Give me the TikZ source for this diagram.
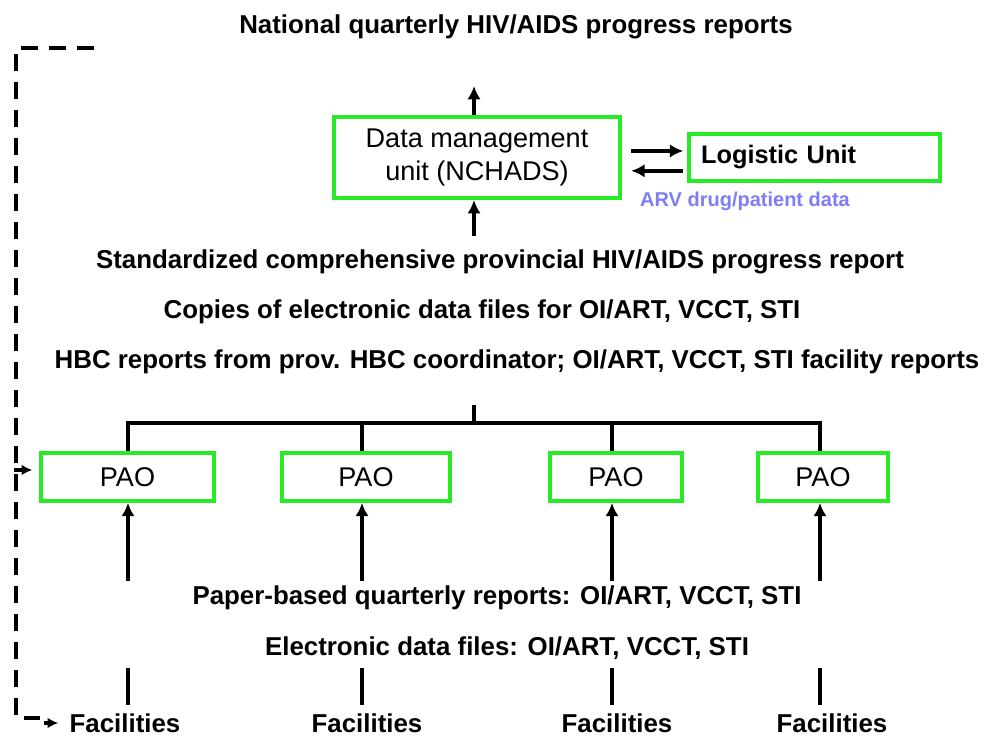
\documentclass[tikz,border=0pt]{standalone}
\usepackage{fontspec}
\setmainfont{Liberation Sans}
\usetikzlibrary{arrows.meta,calc}
\definecolor{unitgreen}{RGB}{40,235,40}
\definecolor{arvblue}{RGB}{125,125,245}
\tikzset{
  unit/.style={draw=unitgreen, line width=2.8pt, inner sep=0pt, align=center,
    font=\fontsize{20.3}{25}\selectfont},
  report/.style={font=\bfseries\fontsize{19.4}{22}\selectfont},
  flow/.style={line width=2.8pt, -{Latex[length=10pt,width=10pt]}},
  link/.style={line width=2.6pt},
  feedback/.style={line width=3pt, dash pattern=on 12.75pt off 8.25pt}
}

\begin{document}
\begin{tikzpicture}[x=0.75pt, y=-0.75pt]
\useasboundingbox (0,0) rectangle (987,738);
\node [report] (national) at (516,27) {National quarterly HIV/AIDS progress reports};
\node [unit, minimum width=214.5pt, minimum height=61pt] (dmu) at (477,157.5) {Data management\\unit (NCHADS)};
\node [unit, font=\bfseries\fontsize{19}{22}\selectfont, minimum width=188pt, minimum height=35pt,
  text width=170pt, align=left] (logistic) at (814.5,157.5) {Logistic Unit};
\node [font=\bfseries\fontsize{15}{18}\selectfont, text=arvblue] (arv) at (745,201) {ARV drug/patient data};
\coordinate (tonat) at (474,86);
\coordinate (fromprov) at (474,236);
\draw [flow] (dmu.north -| tonat) -- (tonat);
\draw [flow] (fromprov) -- (dmu.south -| fromprov);
\draw [flow, shorten <=7pt, shorten >=3pt] ([yshift=4.9pt]dmu.east) -- ([yshift=4.9pt]logistic.west);
\draw [flow, shorten <=3pt, shorten >=7pt] ([yshift=-10pt]logistic.west) -- ([yshift=-10pt]dmu.east);

\node [report] (std) at (500,262) {Standardized comprehensive provincial HIV/AIDS progress report};
\node [report] (copies) at (482,312) {Copies of electronic data files for OI/ART, VCCT, STI};
\node [report] (hbc) at (517,362) {HBC reports from prov. HBC coordinator; OI/ART, VCCT, STI facility reports};

\node [unit, minimum width=130pt, minimum height=36pt] (pao1) at (127.5,477) {PAO};
\node [unit, minimum width=126pt, minimum height=36pt] (pao2) at (366,477) {PAO};
\node [unit, minimum width=99pt, minimum height=36pt] (pao3) at (616,477) {PAO};
\node [unit, minimum width=97.5pt, minimum height=36pt] (pao4) at (823,477) {PAO};

\coordinate (hub) at (474,405);
\coordinate (col1) at (128,423);
\coordinate (col2) at (362,423);
\coordinate (col3) at (612,423);
\coordinate (col4) at (820,423);
\draw [link] (hub) -- (hub |- col1);
\draw [link, line cap=rect] (col1) -- (col4);
\draw [link] (col1) -- (col1 |- pao1.north);
\draw [link] (col2) -- (col2 |- pao2.north);
\draw [link] (col3) -- (col3 |- pao3.north);
\draw [link] (col4) -- (col4 |- pao4.north);

\node [report] (paper) at (497,598) {Paper-based quarterly reports: OI/ART, VCCT, STI};
\node [report] (files) at (507,648) {Electronic data files: OI/ART, VCCT, STI};

\node [report] (fac1) at (125,723) {Facilities};
\node [report] (fac2) at (367,723) {Facilities};
\node [report] (fac3) at (617,723) {Facilities};
\node [report] (fac4) at (832,723) {Facilities};

\coordinate (up1) at (128,581);
\coordinate (up2) at (362,581);
\coordinate (up3) at (612,581);
\coordinate (up4) at (820,581);
\draw [flow] (up1) -- (up1 |- pao1.south);
\draw [flow] (up2) -- (up2 |- pao2.south);
\draw [flow] (up3) -- (up3 |- pao3.south);
\draw [flow] (up4) -- (up4 |- pao4.south);

\coordinate (low1) at (128,668);
\coordinate (low2) at (362,668);
\coordinate (low3) at (612,668);
\coordinate (low4) at (820,668);
\draw [link] (low1) -- ++(0,37);
\draw [link] (low2) -- ++(0,37);
\draw [link] (low3) -- ++(0,37);
\draw [link] (low4) -- ++(0,37);

% feedback loop to the facilities
\coordinate (fbtop) at (94,48);
\coordinate (fbcorner) at (16,48);
\draw [feedback] (fbtop) -- (fbcorner) -- (fbcorner |- 0,718) -- (40,718);
\draw [flow, -{Latex[length=8pt,width=8pt]}, shorten >=5pt] ([xshift=-16pt]fac1.west) -- (fac1.west);
\draw [flow, -{Latex[length=8pt,width=8pt]}, line cap=rect, shorten >=5pt] (fbcorner |- 0,470) -- (pao1.west |- 0,470);
\end{tikzpicture}
\end{document}
